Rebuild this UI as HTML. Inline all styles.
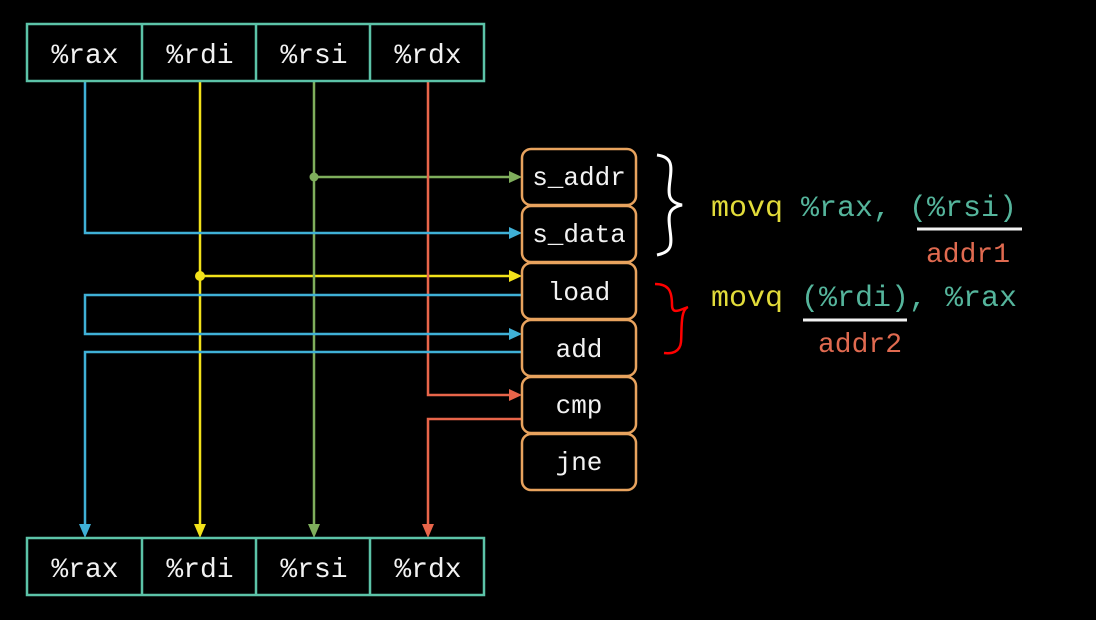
<!DOCTYPE html>
<html><head><meta charset="utf-8"><style>
html,body{margin:0;padding:0;background:#000;}
svg{display:block;}
text{font-family:"Liberation Mono",monospace;}
</style></head><body>
<svg width="1096" height="620" viewBox="0 0 1096 620" xmlns="http://www.w3.org/2000/svg">
<g stroke="none">
</g>
<g fill="none" stroke-width="2.5">
<path d="M200 81 V526" stroke="#f2e21a"/>
<path d="M200 276 H511" stroke="#f2e21a"/>
<path d="M314 81 V526" stroke="#7fae5c"/>
<path d="M314 177 H511" stroke="#7fae5c"/>
<path d="M428 81 V395 H511" stroke="#e8654a"/>
<path d="M522 419 H428 V526" stroke="#e8654a"/>
<path d="M85 81 V233 H511" stroke="#3fb0d6"/>
<path d="M522 295 H85 V334 H511" stroke="#3fb0d6"/>
<path d="M522 352 H85 V526" stroke="#3fb0d6"/>
</g>
<!-- arrowheads -->
<path d="M509 270 L522 276 L509 282z" fill="#f2e21a"/>
<path d="M509 171 L522 177 L509 183z" fill="#7fae5c"/>
<path d="M509 389 L522 395 L509 401z" fill="#e8654a"/>
<path d="M509 227 L522 233 L509 239z" fill="#3fb0d6"/>
<path d="M509 328 L522 334 L509 340z" fill="#3fb0d6"/>
<path d="M79 524 L85 538 L91 524z" fill="#3fb0d6"/>
<path d="M194 524 L200 538 L206 524z" fill="#f2e21a"/>
<path d="M308 524 L314 538 L320 524z" fill="#7fae5c"/>
<path d="M422 524 L428 538 L434 524z" fill="#e8654a"/>
<circle cx="314" cy="177" r="4.5" fill="#7fae5c"/>
<circle cx="200" cy="276" r="5" fill="#f2e21a"/>
<g stroke="#5cc3a8" stroke-width="2.5" fill="#000">
<rect x="27" y="24" width="457" height="57"/>
<path d="M142 24V81M256 24V81M370 24V81"/>
<rect x="27" y="538" width="457" height="57"/>
<path d="M142 538V595M256 538V595M370 538V595"/>
</g>
<g fill="#f2f2f2" font-size="28" text-anchor="middle">
<text x="85" y="63">%rax</text><text x="200" y="63">%rdi</text><text x="314" y="63">%rsi</text><text x="428" y="63">%rdx</text>
<text x="85" y="577">%rax</text><text x="200" y="577">%rdi</text><text x="314" y="577">%rsi</text><text x="428" y="577">%rdx</text>
</g>
<g stroke="#e8a35e" stroke-width="2.5" fill="#000">
<rect x="522" y="149" width="114" height="56" rx="9"/>
<rect x="522" y="206" width="114" height="56" rx="9"/>
<rect x="522" y="263" width="114" height="56" rx="9"/>
<rect x="522" y="320" width="114" height="56" rx="9"/>
<rect x="522" y="377" width="114" height="56" rx="9"/>
<rect x="522" y="434" width="114" height="56" rx="9"/>
</g>
<g fill="#f2f2f2" font-size="26" text-anchor="middle">
<text x="579" y="185">s_addr</text><text x="579" y="242">s_data</text><text x="579" y="300">load</text>
<text x="579" y="357">add</text><text x="579" y="413">cmp</text><text x="579" y="470">jne</text>
</g>
<path d="M657 155 C672 157 672 165 670 180 C668 195 668 202 682 205 C668 208 668 215 670 230 C672 245 672 252 657 255" fill="none" stroke="#fff" stroke-width="3"/>
<path d="M655 284 C668 284 672 290 672 305 C672 315 680 310 688 307 C680 310 682 330 681 342 C680 352 672 354 664 353" fill="none" stroke="#f00" stroke-width="2.5"/>
<g font-size="30">
<text x="711" y="216"><tspan fill="#e2dc3a">movq</tspan><tspan fill="#55b59c"> %rax, (%rsi)</tspan></text>
<text x="711" y="306"><tspan fill="#e2dc3a">movq</tspan><tspan fill="#55b59c"> (%rdi), %rax</tspan></text>
</g>
<g fill="#e06a50" font-size="28" text-anchor="middle">
<text x="968" y="262">addr1</text>
<text x="860" y="352">addr2</text>
</g>
<path d="M917 229H1022M803 320H907" stroke="#f2f2f2" stroke-width="3"/>
</svg>
</body></html>
